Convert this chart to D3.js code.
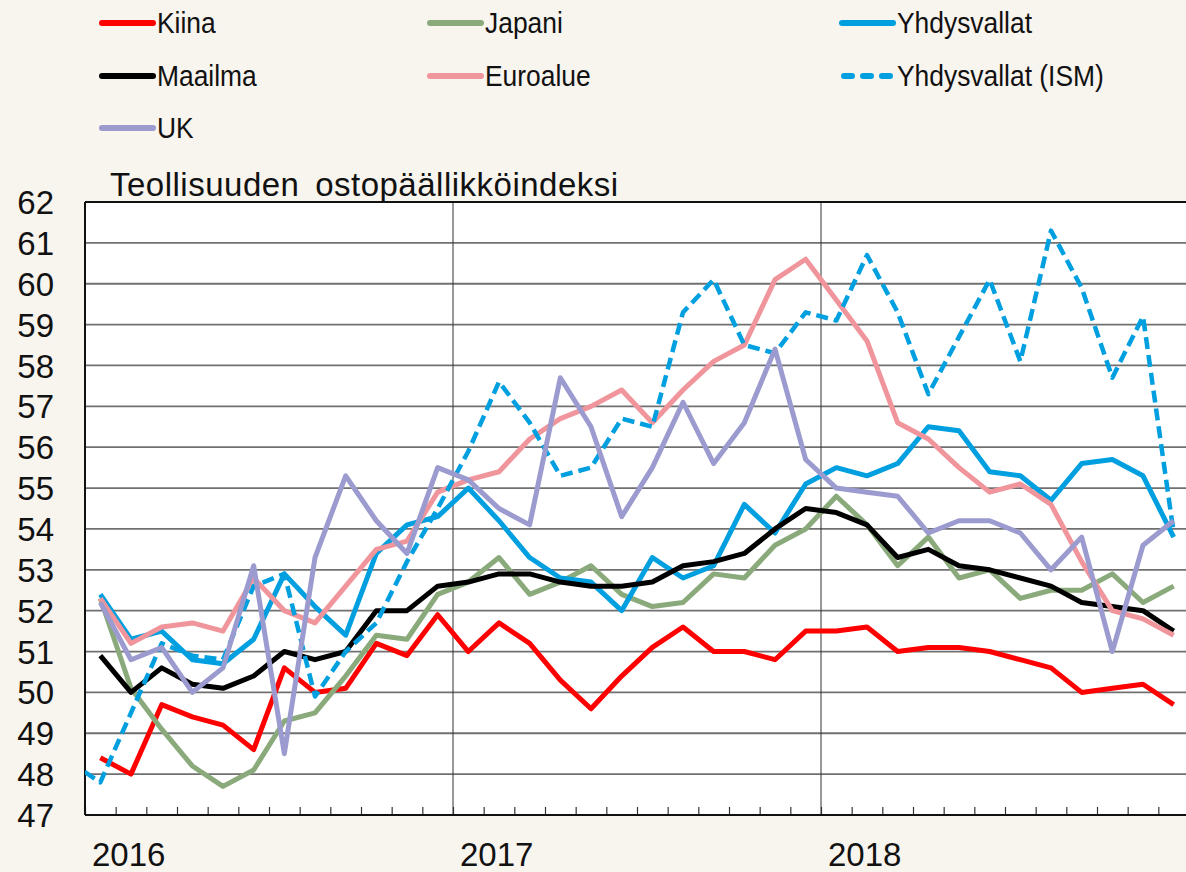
<!DOCTYPE html>
<html>
<head>
<meta charset="utf-8">
<script src="https://cdn.jsdelivr.net/npm/d3@7"></script>
<style>
  html, body { margin: 0; padding: 0; background: #f8f4ee; }
  svg { display: block; font-family: "Liberation Sans", Arial, sans-serif; }
</style>
</head>
<body>
<div id="chart"></div>
<script>
// Purchasing managers' index, monthly Jan 2016 – Dec 2018
const years = ['2016', '2017', '2018'];
const yTicks = d3.range(47, 63);

const kiina = [48.4, 48.0, 49.7, 49.4, 49.2, 48.6, 50.6, 50.0, 50.1, 51.2, 50.9, 51.9,
  51.0, 51.7, 51.2, 50.3, 49.6, 50.4, 51.1, 51.6, 51.0, 51.0, 50.8, 51.5,
  51.5, 51.6, 51.0, 51.1, 51.1, 51.0, 50.8, 50.6, 50.0, 50.1, 50.2, 49.7];
const japani = [52.3, 50.1, 49.1, 48.2, 47.7, 48.1, 49.3, 49.5, 50.4, 51.4, 51.3, 52.4,
  52.7, 53.3, 52.4, 52.7, 53.1, 52.4, 52.1, 52.2, 52.9, 52.8, 53.6, 54.0,
  54.8, 54.1, 53.1, 53.8, 52.8, 53.0, 52.3, 52.5, 52.5, 52.9, 52.2, 52.6];
const yhdysvallat = [52.4, 51.3, 51.5, 50.8, 50.7, 51.3, 52.9, 52.1, 51.4, 53.4, 54.1, 54.3,
  55.0, 54.2, 53.3, 52.8, 52.7, 52.0, 53.3, 52.8, 53.1, 54.6, 53.9, 55.1,
  55.5, 55.3, 55.6, 56.5, 56.4, 55.4, 55.3, 54.7, 55.6, 55.7, 55.3, 53.8];
const maailma = [50.9, 50.0, 50.6, 50.2, 50.1, 50.4, 51.0, 50.8, 51.0, 52.0, 52.0, 52.6,
  52.7, 52.9, 52.9, 52.7, 52.6, 52.6, 52.7, 53.1, 53.2, 53.4, 54.0, 54.5,
  54.4, 54.1, 53.3, 53.5, 53.1, 53.0, 52.8, 52.6, 52.2, 52.1, 52.0, 51.5];
const euroalue = [52.3, 51.2, 51.6, 51.7, 51.5, 52.8, 52.0, 51.7, 52.6, 53.5, 53.7, 54.9,
  55.2, 55.4, 56.2, 56.7, 57.0, 57.4, 56.6, 57.4, 58.1, 58.5, 60.1, 60.6,
  59.6, 58.6, 56.6, 56.2, 55.5, 54.9, 55.1, 54.6, 53.2, 52.0, 51.8, 51.4];
// ISM starts one month earlier (Dec 2015), clipped at the left edge
const ism = [48.3,
  47.8, 49.5, 51.2, 50.9, 50.8, 52.6, 52.9, 49.9, 51.0, 51.7, 53.2, 54.5,
  55.9, 57.6, 56.6, 55.3, 55.5, 56.7, 56.5, 59.3, 60.1, 58.5, 58.3, 59.3,
  59.1, 60.7, 59.3, 57.3, 58.7, 60.1, 58.1, 61.3, 59.9, 57.7, 59.2, 53.9];
const uk = [52.2, 50.8, 51.1, 50.0, 50.6, 53.1, 48.5, 53.3, 55.3, 54.2, 53.4, 55.5,
  55.2, 54.5, 54.1, 57.7, 56.5, 54.3, 55.5, 57.1, 55.6, 56.6, 58.4, 55.7,
  55.0, 54.9, 54.8, 53.9, 54.2, 54.2, 53.9, 53.0, 53.8, 51.0, 53.6, 54.2];

const series = [
  { name: 'Kiina', values: kiina, start: 0, color: '#ff0000' },
  { name: 'Japani', values: japani, start: 0, color: '#8aaa7c' },
  { name: 'Yhdysvallat', values: yhdysvallat, start: 0, color: '#009fe0' },
  { name: 'Maailma', values: maailma, start: 0, color: '#000000' },
  { name: 'Euroalue', values: euroalue, start: 0, color: '#f0959b' },
  { name: 'Yhdysvallat (ISM)', values: ism, start: -1, color: '#009fe0', dash: '12,6' },
  { name: 'UK', values: uk, start: 0, color: '#9b9bcf' }
];
// legend reads row by row, three per row
const legendOrder = ['Kiina', 'Japani', 'Yhdysvallat', 'Maailma', 'Euroalue', 'Yhdysvallat (ISM)', 'UK'];

const width = 1186, height = 872;
const plot = { left: 85, top: 202, right: 1189, bottom: 815 };

const svg = d3.select('#chart').append('svg')
  .attr('width', width)
  .attr('height', height);

svg.append('rect').attr('width', width).attr('height', height).attr('fill', '#f8f4ee');

const x = d3.scaleLinear().domain([0, 36]).range([plot.left, plot.right]);
const y = d3.scaleLinear().domain([47, 62]).range([plot.bottom, plot.top]);

svg.append('rect')
  .attr('x', plot.left).attr('y', plot.top)
  .attr('width', plot.right - plot.left).attr('height', plot.bottom - plot.top)
  .attr('fill', '#ffffff');

// Horizontal gridlines
svg.append('g')
  .selectAll('line')
  .data(yTicks.filter(t => t > 47 && t < 62))
  .join('line')
  .attr('x1', plot.left).attr('x2', plot.right)
  .attr('y1', d => y(d)).attr('y2', d => y(d))
  .attr('stroke', '#707070')
  .attr('stroke-width', 1.8);

// Year separators
svg.append('g')
  .selectAll('line')
  .data([12, 24])
  .join('line')
  .attr('x1', d => x(d)).attr('x2', d => x(d))
  .attr('y1', plot.top).attr('y2', plot.bottom)
  .attr('stroke', '#333')
  .attr('stroke-width', 1);

// Month ticks on the bottom axis, pointing up
const xAxis = d3.axisBottom(x)
  .tickValues(d3.range(0, 37))
  .tickSize(-8)
  .tickFormat('');
svg.append('g')
  .attr('transform', `translate(0,${plot.bottom})`)
  .call(xAxis)
  .call(g => g.select('.domain').remove())
  .call(g => g.selectAll('.tick line').attr('stroke', '#333').attr('stroke-width', 1.2));

// Frame: top, left, bottom
svg.append('line').attr('x1', plot.left).attr('x2', width).attr('y1', plot.top).attr('y2', plot.top)
  .attr('stroke', '#111').attr('stroke-width', 2);
svg.append('line').attr('x1', plot.left).attr('x2', width).attr('y1', plot.bottom).attr('y2', plot.bottom)
  .attr('stroke', '#111').attr('stroke-width', 2);
svg.append('line').attr('x1', plot.left).attr('x2', plot.left).attr('y1', plot.top).attr('y2', plot.bottom)
  .attr('stroke', '#111').attr('stroke-width', 2);

// Y labels
const yAxis = d3.axisLeft(y).tickValues(yTicks).tickSize(0).tickPadding(0);
svg.append('g')
  .attr('transform', `translate(54,0)`)
  .call(yAxis)
  .call(g => g.select('.domain').remove())
  .call(g => g.selectAll('text')
    .attr('font-size', 33)
    .attr('font-family', '"Liberation Sans", Arial, sans-serif')
    .attr('fill', '#111')
    .attr('dy', '0.35em'));

// Year labels
svg.append('g')
  .selectAll('text')
  .data(years)
  .join('text')
  .attr('x', (d, i) => x(i * 12) + 7)
  .attr('y', 866)
  .attr('font-size', 33)
  .attr('fill', '#111')
  .text(d => d);

// Title
svg.append('text')
  .attr('x', 110)
  .attr('y', 196)
  .attr('font-size', 33)
  .attr('letter-spacing', 0.5)
  .attr('word-spacing', 6)
  .attr('fill', '#111')
  .text('Teollisuuden ostopäällikköindeksi');

// Lines
svg.append('clipPath').attr('id', 'plot-clip')
  .append('rect')
  .attr('x', plot.left).attr('y', plot.top)
  .attr('width', plot.right - plot.left).attr('height', plot.bottom - plot.top);

const line = d3.line()
  .x(d => x(d.i + 0.5))
  .y(d => y(d.v));

svg.append('g')
  .attr('clip-path', 'url(#plot-clip)')
  .selectAll('path')
  .data(series)
  .join('path')
  .attr('d', s => line(s.values.map((v, k) => ({ i: s.start + k, v }))))
  .attr('fill', 'none')
  .attr('stroke', s => s.color)
  .attr('stroke-width', s => s.dash ? 4.5 : 5)
  .attr('stroke-dasharray', s => s.dash || null)
  .attr('stroke-linejoin', 'round');

// Legend
const legendCols = [102, 430, 842];
const legendRows = [23, 76, 128];
const legend = svg.append('g')
  .selectAll('g')
  .data(legendOrder.map(n => series.find(s => s.name === n)))
  .join('g')
  .attr('transform', (d, i) => `translate(${legendCols[i % 3]},${legendRows[Math.floor(i / 3)]})`);

legend.append('line')
  .attr('x1', d => d.dash ? 2 : 0).attr('x2', 51)
  .attr('stroke', d => d.color)
  .attr('stroke-width', 6)
  .attr('stroke-linecap', 'round')
  .attr('stroke-dasharray', d => d.dash ? '8,11' : null);

legend.append('text')
  .attr('transform', 'translate(55,10) scale(0.88,1)')
  .attr('font-size', 30)
  .attr('fill', '#111')
  .text(d => d.name);
</script>
</body>
</html>
